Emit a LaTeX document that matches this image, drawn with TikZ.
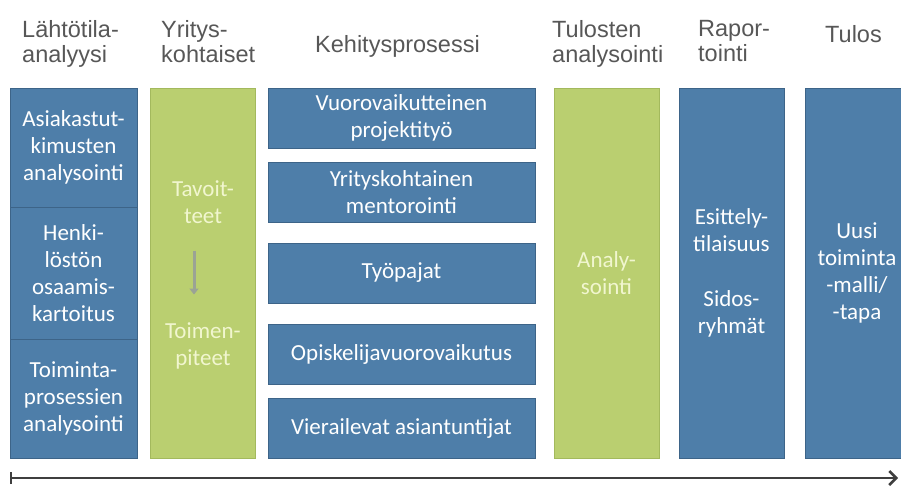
\documentclass[tikz,border=0pt]{standalone}
\usepackage{fontspec}
\setmainfont{Carlito}
\newfontfamily\headfont{Liberation Sans}
\usetikzlibrary{arrows.meta,positioning}
\definecolor{boxblue}{HTML}{4E7EA9}
\definecolor{boxedge}{HTML}{3D6488}
\definecolor{boxgreen}{HTML}{BACF70}
\definecolor{greenedge}{HTML}{A3B95D}
\definecolor{paletext}{HTML}{F1F6CF}
\definecolor{headgrey}{HTML}{575757}
\definecolor{axisgrey}{HTML}{3F3F3F}
\definecolor{stepgrey}{HTML}{9BA395}

\begin{document}
\begin{tikzpicture}[x=1pt,y=-1pt,
    head/.style={headgrey,inner sep=0pt,align=left,font=\headfont\fontsize{23.5}{25}\selectfont},
    bluebox/.style={draw=boxedge,fill=boxblue,line width=0.8pt,text=white,align=center,
      inner sep=0pt,font=\fontsize{23}{27}\selectfont},
    greenbox/.style={draw=greenedge,fill=boxgreen,line width=0.8pt,inner sep=0pt},
    greentext/.style={text=paletext,align=center,inner sep=0pt,font=\fontsize{23}{27}\selectfont},
    timeline/.style={axisgrey,line width=2.5pt,{Bar[width=12pt,line width=2pt]}-{Straight Barb[length=7pt,width=14pt]}}
  ]
  \useasboundingbox (0,0) rectangle (901,486);
  \clip (0,0) rectangle (901,486);
  % otsikot
  \node[head,anchor=north west] (h1) at (22,20) {Lähtötila-\\analyysi};
  \node[head,anchor=north west] (h2) at (161,20) {Yritys-\\kohtaiset};
  \node[head,anchor=base west] (h3) at (315,53) {Kehitysprosessi};
  \node[head,anchor=north west] (h4) at (552,20) {Tulosten\\analysointi};
  \node[head,anchor=north west] (h5) at (698,20) {Rapor-\\tointi};
  \node[head,anchor=base west] (h6) at (825,43) {Tulos};
  % lähtötila
  \node[bluebox,minimum width=127pt,minimum height=119pt] (a1) at (73.5,147.5) {Asiakastut-\\kimusten\\analysointi};
  \node[bluebox,minimum width=127pt,minimum height=132pt] (a2) at (73.5,273) {Henki-\\löstön\\osaamis-\\kartoitus};
  \node[bluebox,minimum width=127pt,minimum height=119pt] (a3) at (73.5,398.5) {Toiminta-\\prosessien\\analysointi};
  % yrityskohtaiset
  \node[greenbox,minimum width=105pt,minimum height=370pt] (yk) at (202.5,273) {};
  \node[greentext] (tav) at (203,202) {Tavoit-\\teet};
  \node[greentext] (toim) at (203,346) {Toimen-\\piteet};
  \draw[stepgrey,line width=3pt,-{Triangle[length=6pt,width=9pt]}]
    ([xshift=-9pt,yshift=-27pt]tav.south) -- ([xshift=-9pt,yshift=28pt]toim.north);
  % kehitysprosessi
  \node[bluebox,minimum width=267pt,minimum height=60pt] (k1) at (401.5,118) {Vuorovaikutteinen\\projektityö};
  \node[bluebox,minimum width=267pt,minimum height=60pt] (k2) at (401.5,192) {Yrityskohtainen\\mentorointi};
  \node[bluebox,minimum width=267pt,minimum height=60pt] (k3) at (401.5,273) {Työpajat};
  \node[bluebox,minimum width=267pt,minimum height=60pt] (k4) at (401.5,354) {Opiskelijavuorovaikutus};
  \node[bluebox,minimum width=267pt,minimum height=60pt] (k5) at (401.5,428) {Vierailevat asiantuntijat};
  % tulosten analysointi, raportointi, tulos
  \node[greenbox,greentext,minimum width=105pt,minimum height=370pt] (an) at (606.5,273) {Analy-\\sointi};
  \node[bluebox,minimum width=105pt,minimum height=370pt] (rap) at (731.5,273) {Esittely-\\tilaisuus\\[28pt]Sidos-\\ryhmät};
  \node[bluebox,minimum width=104pt,minimum height=370pt] (tul) at (857,273) {Uusi\\toiminta\\-malli/\\-tapa};
  % aikajana
  \coordinate (t0) at (10,478);
  \coordinate (t1) at (898,478);
  \draw[timeline] (t0) -- (t1);
\end{tikzpicture}
\end{document}
